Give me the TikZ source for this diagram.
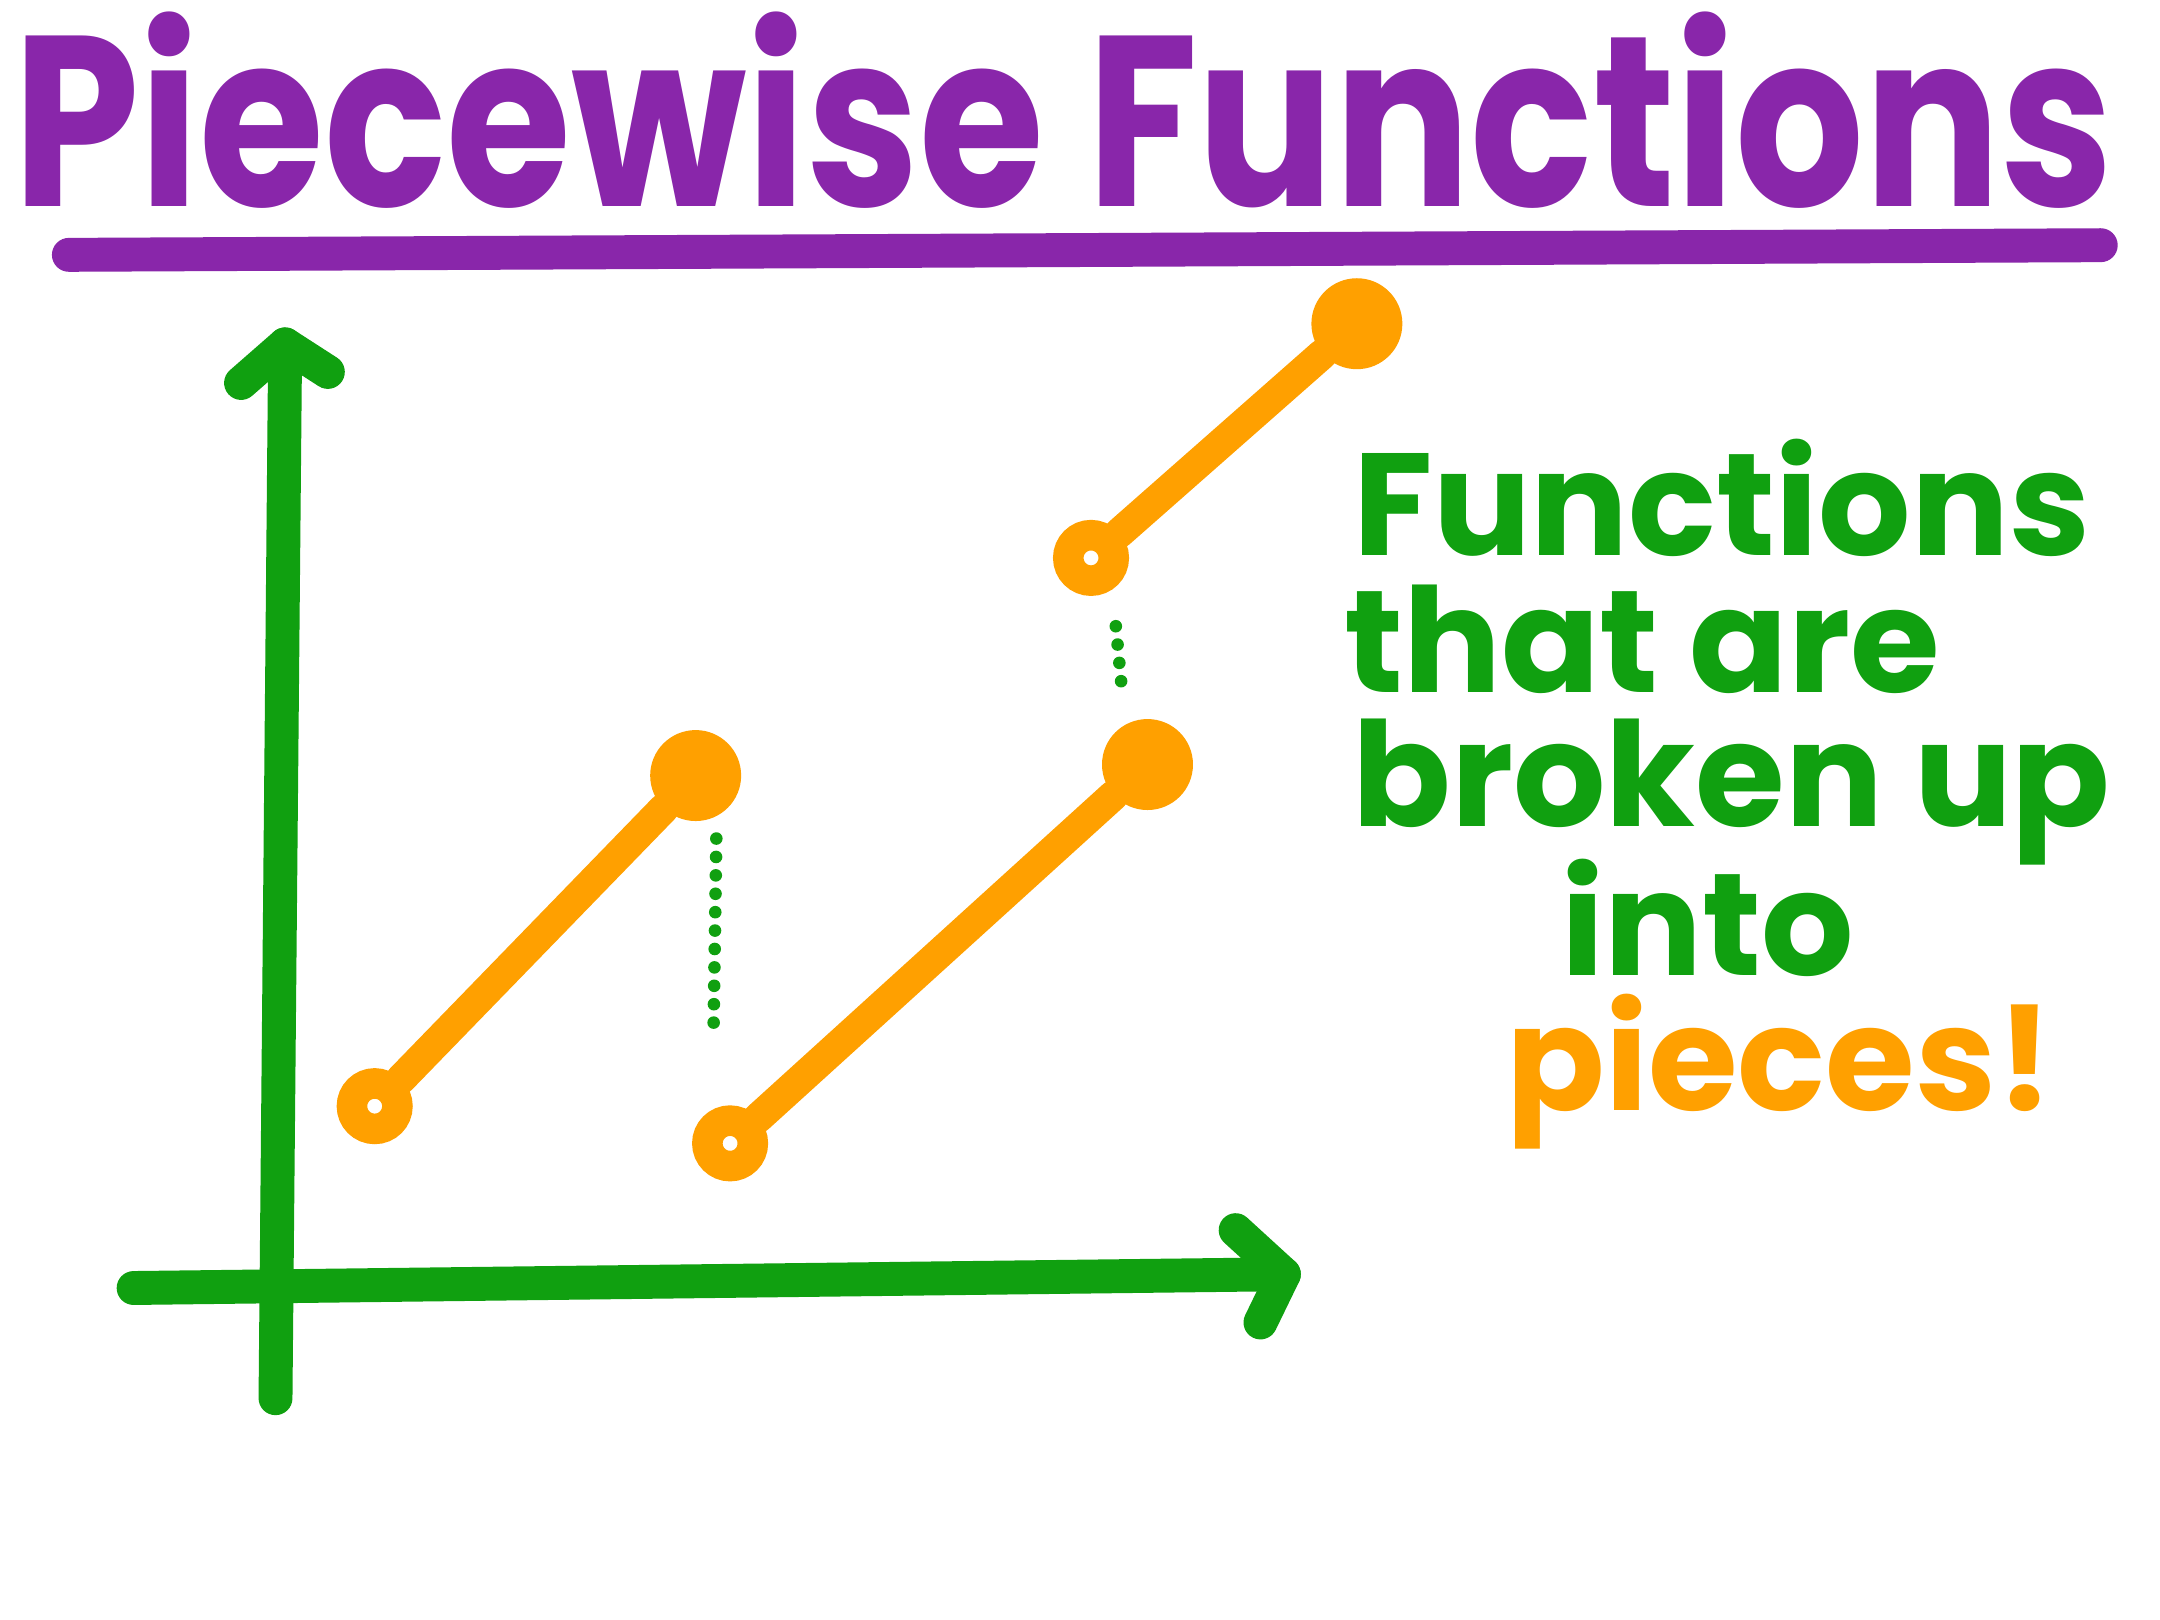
\documentclass[tikz,border=0pt]{standalone}
\usepackage{fontspec}
\newfontfamily\handfont{Poppins}
\definecolor{titlepurple}{RGB}{137,38,170}
\definecolor{axisgreen}{RGB}{16,160,16}
\definecolor{pieceorange}{RGB}{255,160,0}
\tikzset{
  axisline/.style={axisgreen, line width=7pt, line cap=round, line join=round},
  piece/.style={pieceorange, line width=6.3pt, line cap=round},
  openpt/.style={circle, draw=pieceorange, line width=6.3pt, fill=white, inner sep=0pt, minimum size=3.3mm},
  closedpt/.style={circle, fill=pieceorange, inner sep=0pt, minimum size=6.6mm},
  gap/.style={axisgreen, line width=2.6pt, line cap=round, dash pattern=on 0pt off 3.8pt},
  words/.style={font=\handfont\bfseries\fontsize{30}{36}\selectfont, anchor=base, inner sep=0pt}
}
\begin{document}
\begin{tikzpicture}[x=0.01cm, y=-0.01cm]
  \useasboundingbox[fill=white] (0,0) rectangle (1568,1176);
  \node[titlepurple, inner sep=0pt, anchor=base, yscale=1.2,
        font=\handfont\bfseries\fontsize{41.8}{50}\selectfont] (title) at (772,150) {Piecewise Functions};
  \coordinate (ulA) at (50,185);
  \coordinate (ulB) at (1525,178);
  \draw[titlepurple, line width=7pt, line cap=round] (ulA) -- (ulB);

  \coordinate (yfoot) at (200,1015);
  \coordinate (ytop) at (207,250);
  \coordinate (xfoot) at (97,935);
  \coordinate (xtip) at (932,925);
  \draw[axisline] (yfoot) -- (ytop);
  \draw[axisline] (175,278) -- (ytop) -- (238,270);
  \draw[axisline] (xfoot) -- (xtip);
  \draw[axisline] (897,893) -- (xtip) -- (915,960);

  \node[openpt] (o1) at (272,803) {};
  \node[closedpt] (c1) at (505,563) {};
  \node[openpt] (o2) at (530,830) {};
  \node[closedpt] (c2) at (833,555) {};
  \node[openpt] (o3) at (792,405) {};
  \node[closedpt] (c3) at (985,235) {};
  \draw[piece] (o1) -- (c1);
  \draw[piece] (o2) -- (c2);
  \draw[piece] (o3) -- (c3);
  \draw[gap] ([xshift=1.5mm, yshift=-1.2mm]c1.south) -- ([xshift=-1.2mm, yshift=5.5mm]o2.north);
  \draw[gap] ([xshift=1.8mm, yshift=-2.2mm]o3.south) -- ([xshift=-1.8mm, yshift=1.5mm]c2.north);

  \node[words, axisgreen] (w1) at (1250,403) {Functions};
  \node[words, axisgreen] (w2) at (1192,503) {that are};
  \node[words, axisgreen] (w3) at (1257,600) {broken up};
  \node[words, axisgreen] (w4) at (1240,708) {into};
  \node[words, pieceorange] (w5) at (1292,806) {pieces!};
\end{tikzpicture}
\end{document}
